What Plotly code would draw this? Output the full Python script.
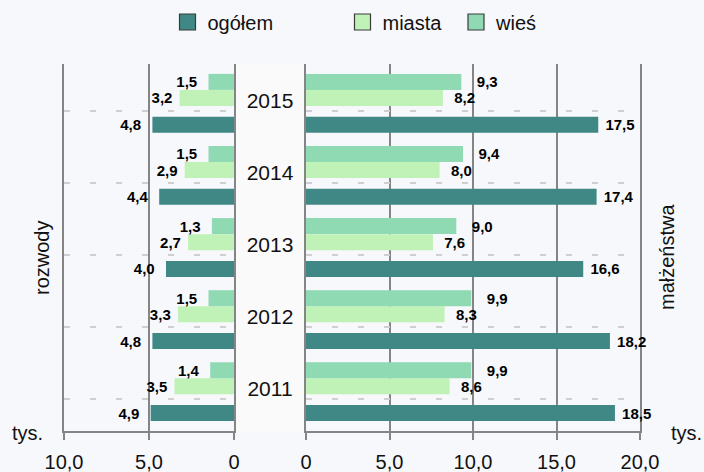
import plotly.graph_objects as go

# ---------------- data ----------------
years = [2011, 2012, 2013, 2014, 2015]
series_names = ["ogółem", "miasta", "wieś"]

# rozwody (divorces), thousands
div_total = [4.9, 4.8, 4.0, 4.4, 4.8]
div_urban = [3.5, 3.3, 2.7, 2.9, 3.2]
div_rural = [1.4, 1.5, 1.3, 1.5, 1.5]

# małżeństwa (marriages), thousands
mar_total = [18.5, 18.2, 16.6, 17.4, 17.5]
mar_urban = [8.6, 8.3, 7.6, 8.0, 8.2]
mar_rural = [9.9, 9.9, 9.0, 9.4, 9.3]

left_tickvals = [10, 5, 0]
left_ticktext = ["10,0", "5,0", "0"]
right_tickvals = [0, 5, 10, 15, 20]
right_ticktext = ["0", "5,0", "10,0", "15,0", "20,0"]

# ---------------- style ----------------
FONT = "Liberation Sans, Arial, sans-serif"
BG = "#F7F8FC"
MID_BG = "#FAFAFB"
GRID = "#858585"
colors = {"ogółem": "#3F8885", "miasta": "#C0F2B8", "wieś": "#8FD9B3"}
BAR_W = 0.222
offsets = {"ogółem": -0.422, "miasta": -0.051, "wieś": 0.172}
GRID_SHIFT = 0.121
NB = "\u00a0"

W, H = 704, 472
M_T, M_B = 64, 41
PLOT_H = H - M_T - M_B

fig = go.Figure()

left_data = {"ogółem": div_total, "miasta": div_urban, "wieś": div_rural}
right_data = {"ogółem": mar_total, "miasta": mar_urban, "wieś": mar_rural}
left_pad = {"ogółem": 2, "miasta": 1, "wieś": 2}
right_pad = {"ogółem": 1, "miasta": 2, "wieś": 3}

for name in series_names:
    fig.add_trace(go.Bar(
        y=years, x=left_data[name], orientation="h",
        xaxis="x", yaxis="y",
        width=BAR_W, offset=offsets[name],
        marker=dict(color=colors[name], line=dict(width=0)),
        texttemplate="%{x:.1f}" + NB * left_pad[name],
        textposition="outside", constraintext="none", cliponaxis=False,
        textfont=dict(family=FONT, size=15, color="#000", weight="bold"),
        showlegend=False, hoverinfo="skip",
    ))
    fig.add_trace(go.Bar(
        y=years, x=right_data[name], orientation="h",
        xaxis="x2", yaxis="y2",
        width=BAR_W, offset=offsets[name],
        marker=dict(color=colors[name], line=dict(width=0)),
        texttemplate=NB * right_pad[name] + "%{x:.1f}",
        textposition="outside", constraintext="none", cliponaxis=False,
        textfont=dict(family=FONT, size=15, color="#000", weight="bold"),
        showlegend=False, hoverinfo="skip",
    ))

# year labels in the middle strip
fig.add_trace(go.Scatter(
    x=[0.5] * len(years), y=years, xaxis="x3", yaxis="y3",
    mode="text", text=[str(y) for y in years],
    textfont=dict(family=FONT, size=21, color="#111"),
    showlegend=False, hoverinfo="skip", cliponaxis=False,
))

# legend entries
legend_keys = ["legend", "legend2", "legend3"]
for name, lk in zip(series_names, legend_keys):
    fig.add_trace(go.Scatter(
        x=[None], y=[None], xaxis="x3", yaxis="y3", mode="markers",
        name=name, legend=lk,
        marker=dict(symbol="square", size=16, color=colors[name],
                    line=dict(color="#3a3a3a", width=1.2)),
    ))

leg_y = 1 + (M_T - 22) / PLOT_H
leg_common = dict(orientation="h", yanchor="middle", y=leg_y, xanchor="left",
                  bgcolor="rgba(0,0,0,0)", borderwidth=0, itemwidth=30,
                  font=dict(family=FONT, size=20, color="#111"))

grid_vals = [y - GRID_SHIFT for y in years]
yaxis_common = dict(
    range=[2010.441, 2015.531], tickvals=grid_vals, showticklabels=False,
    ticks="", showgrid=True, gridcolor="#CFCFCF", gridwidth=2,
    griddash="6px,20px", zeroline=False, domain=[0, 1],
    showline=True, mirror=True, linecolor=GRID, linewidth=2,
    layer="below traces",
)

xaxis_common = dict(
    showgrid=True, gridcolor=GRID, gridwidth=2, zeroline=False,
    showline=True, linecolor=GRID, linewidth=2,
    ticks="outside", ticklen=7, tickwidth=2, tickcolor=GRID,
    tickfont=dict(family=FONT, size=20, color="#111"),
    ticklabelstandoff=5, automargin=False,
)

fig.update_layout(
    width=W, height=H,
    margin=dict(l=0, r=0, t=M_T, b=M_B, pad=0, autoexpand=False),
    paper_bgcolor=BG, plot_bgcolor=BG,
    barmode="overlay", separators=", ",
    font=dict(family=FONT, size=20, color="#111"),
    xaxis=dict(domain=[64 / W, 234 / W], range=[10, 0], anchor="y",
               tickvals=left_tickvals, ticktext=left_ticktext, **xaxis_common),
    xaxis2=dict(domain=[306 / W, 640 / W], range=[0, 20], anchor="y2",
                tickvals=right_tickvals, ticktext=right_ticktext, **xaxis_common),
    xaxis3=dict(domain=[234 / W, 306 / W], range=[0, 1], anchor="y3", visible=False),
    yaxis=dict(anchor="x", **yaxis_common),
    yaxis2=dict(anchor="x2", matches="y", **yaxis_common),
    yaxis3=dict(anchor="x3", matches="y", visible=False, domain=[0, 1]),
    legend=dict(x=167.5 / W, **leg_common),
    legend2=dict(x=342.5 / W, **leg_common),
    legend3=dict(x=456 / W, **leg_common),
    shapes=[dict(type="rect", xref="x3 domain", yref="y3 domain",
                 x0=0, x1=1, y0=0, y1=1, fillcolor=MID_BG,
                 line=dict(width=0), layer="below")],
    annotations=[
        dict(text="tys.", x=27 / W, y=(H - M_B - 433) / PLOT_H, xref="paper", yref="paper",
             xanchor="center", yanchor="middle",
             showarrow=False, font=dict(family=FONT, size=20, color="#111")),
        dict(text="tys.", x=686 / W, y=(H - M_B - 433) / PLOT_H, xref="paper", yref="paper",
             xanchor="center", yanchor="middle",
             showarrow=False, font=dict(family=FONT, size=20, color="#111")),
        dict(text="rozwody", x=42 / W, y=(H - M_B - 258) / PLOT_H, xref="paper", yref="paper",
             xanchor="center", yanchor="middle",
             showarrow=False, textangle=-90, font=dict(family=FONT, size=20, color="#111")),
        dict(text="małżeństwa", x=667 / W, y=(H - M_B - 257) / PLOT_H, xref="paper", yref="paper",
             xanchor="center", yanchor="middle",
             showarrow=False, textangle=-90, font=dict(family=FONT, size=20, color="#111")),
    ],
)

fig.write_html(
    "out.html",
    config={"displayModeBar": False},
    post_script="document.body.style.margin='0';document.body.style.overflow='hidden';",
)
